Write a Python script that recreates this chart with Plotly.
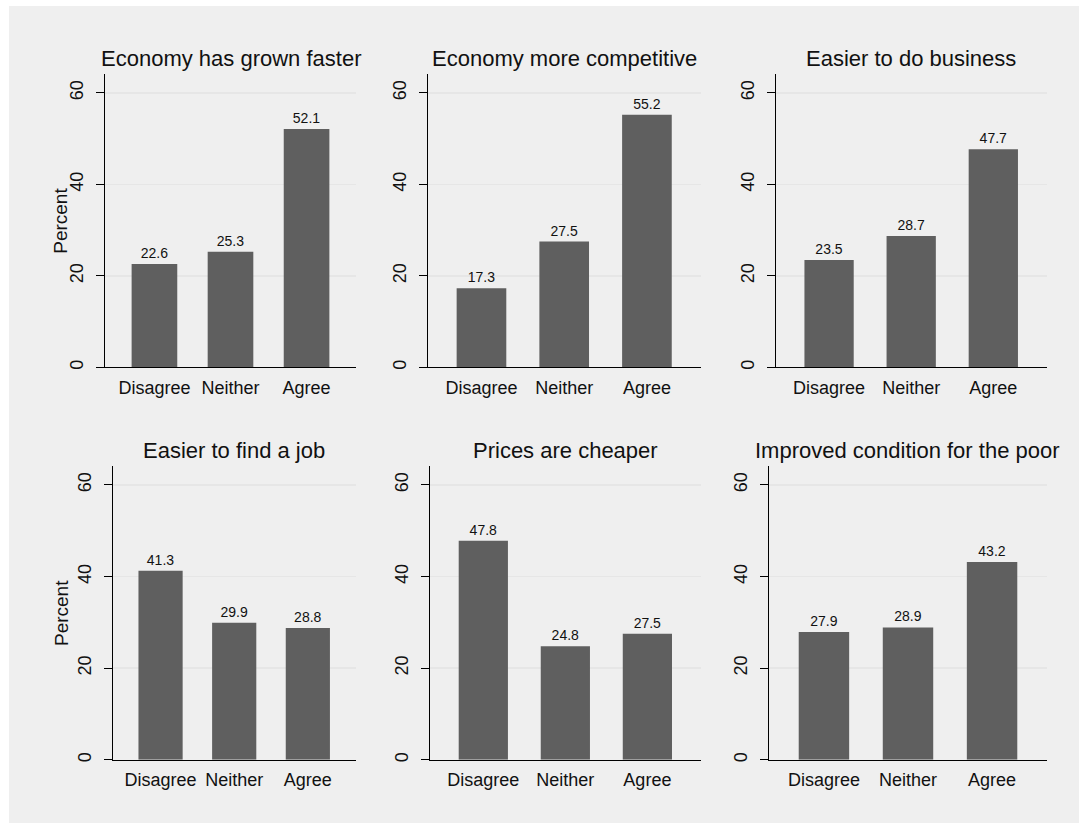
import plotly.graph_objects as go

categories = ["Disagree", "Neither", "Agree"]
titles = [
    "Economy has grown faster",
    "Economy more competitive",
    "Easier to do business",
    "Easier to find a job",
    "Prices are cheaper",
    "Improved condition for the poor",
]
grown_faster = [22.6, 25.3, 52.1]
more_competitive = [17.3, 27.5, 55.2]
easier_business = [23.5, 28.7, 47.7]
easier_job = [41.3, 29.9, 28.8]
prices_cheaper = [47.8, 24.8, 27.5]
improved_poor = [27.9, 28.9, 43.2]
series = [grown_faster, more_competitive, easier_business,
          easier_job, prices_cheaper, improved_poor]
y_ticks = [0, 20, 40, 60]

W, H = 1079, 825
FONT = "Liberation Sans, Arial, Helvetica, sans-serif"
BAR = "#5f5f5f"
GRID = "#e6e6e6"

# panel plot areas in window pixels: (x0, x1, ytop, ybottom)
panels = [
    (105, 356, 74.3, 368.3),
    (427.7, 700.7, 74.3, 368.3),
    (775.7, 1046.7, 74.3, 368.3),
    (112.7, 355.7, 467.3, 761.7),
    (430, 700.7, 467.3, 761.7),
    (769.3, 1046.7, 467.3, 761.7),
]


def px(v):
    return v / W


def py(v):
    return 1 - v / H


fig = go.Figure()
layout = dict(
    width=W, height=H, autosize=False,
    margin=dict(l=0, r=0, t=0, b=0),
    paper_bgcolor="white", plot_bgcolor="white",
    showlegend=False,
    font=dict(family=FONT, color="#111111"),
)
annotations = []
shapes = [dict(type="rect", xref="paper", yref="paper",
               x0=px(9), x1=1, y0=0, y1=py(6),
               fillcolor="#efefef", line=dict(width=0), layer="below")]

for i, (vals, title, (x0, x1, yt, yb)) in enumerate(zip(series, titles, panels)):
    n = "" if i == 0 else str(i + 1)
    xa, ya = "x" + n, "y" + n
    fig.add_trace(go.Bar(
        x=categories, y=vals, xaxis=xa, yaxis=ya,
        marker=dict(color=BAR, line=dict(width=0)),
        width=0.6,
        text=[f"{v:.1f}" for v in vals],
        textposition="outside", cliponaxis=False,
        textfont=dict(size=14, color="#111111", family=FONT),
        hoverinfo="skip",
    ))
    layout["xaxis" + n] = dict(
        domain=[px(x0), px(x1)], anchor=ya,
        range=[-0.65, 2.65], showgrid=False, zeroline=False,
        showline=True, linecolor="black", linewidth=1,
        ticks="", tickfont=dict(size=18, color="#111111"),
        ticklabelstandoff=4, fixedrange=True,
    )
    layout["yaxis" + n] = dict(
        domain=[py(yb), py(yt)], anchor=xa,
        range=[0, 64.1], tickvals=y_ticks, ticktext=[str(t) for t in y_ticks],
        tickangle=-90, ticks="outside", ticklen=8, tickcolor="black",
        tickwidth=1, tickfont=dict(size=18, color="#111111"),
        showgrid=True, gridcolor=GRID, gridwidth=1.5,
        zeroline=False, showline=True, linecolor="black", linewidth=1,
        ticklabelstandoff=6, fixedrange=True,
    )
    annotations.append(dict(
        text=title, xref="paper", yref="paper",
        x=(px(x0) + px(x1)) / 2, y=py(yt), xanchor="center", yanchor="bottom",
        yshift=1, showarrow=False, font=dict(size=22, color="#111111", family=FONT),
    ))
    if i in (0, 3):
        annotations.append(dict(
            text="Percent", xref="paper", yref="paper",
            x=px(61), y=(py(yt) + py(yb)) / 2, xanchor="center", yanchor="middle",
            textangle=-90, showarrow=False,
            font=dict(size=19, color="#111111", family=FONT),
        ))

layout["annotations"] = annotations
layout["shapes"] = shapes
fig.update_layout(**layout)
fig.write_html(
    "out.html",
    config={"displayModeBar": False, "staticPlot": True},
    post_script="document.body.style.margin='0';document.body.style.overflow='hidden';",
)
